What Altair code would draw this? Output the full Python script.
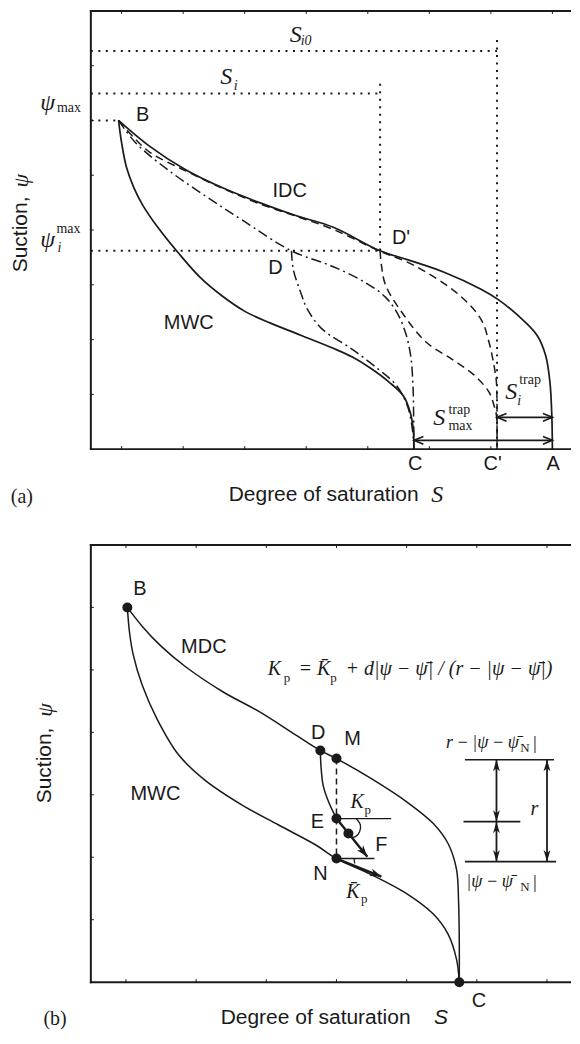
import altair as alt
import pandas as pd

INK = "#1a1a1a"
SANS = "Liberation Sans"
SERIF = "Liberation Serif"
TS = "\u2009"  # thin space used inside the math labels
BAR = "\u0304"  # combining macron

# ====================== panel (a) ======================
A_W, A_H = 481, 439
A_SDOM = [0, 7.802]
A_PDOM = [0, 8]
a_s_ticks = [0.5, 1.5, 2.5, 3.5, 4.5, 5.5, 6.5, 7.5]
a_p_ticks = [1, 2, 3, 4, 5, 6, 7]

# main initial drying curve B -> A
idc_s = [0.45, 0.94, 1.54, 2.14, 2.74, 3.34, 3.94, 4.70, 5.14, 5.74, 6.34, 6.62, 6.94, 7.25, 7.39, 7.46, 7.49, 7.50]
idc_p = [6.00, 5.54, 5.10, 4.77, 4.50, 4.26, 4.05, 3.62, 3.46, 3.23, 2.92, 2.73, 2.44, 2.08, 1.71, 1.22, 0.62, 0.00]
# main wetting curve B -> C
mwc_a_s = [0.45, 0.50, 0.58, 0.70, 0.84, 1.10, 1.43, 1.78, 2.14, 2.51, 2.92, 3.41, 3.94, 4.25, 4.54, 4.85, 5.08, 5.19, 5.24, 5.25]
mwc_a_p = [6.00, 5.59, 5.14, 4.77, 4.46, 4.03, 3.57, 3.13, 2.79, 2.51, 2.30, 2.08, 1.84, 1.68, 1.48, 1.22, 0.97, 0.67, 0.35, 0.00]
# dash-dot curves
dd1_s = [0.45, 0.73, 1.25, 1.85, 2.45, 3.26, 3.94, 4.46, 4.79, 4.99, 5.12, 5.20, 5.235, 5.245, 5.25]
dd1_p = [6.00, 5.59, 5.10, 4.63, 4.19, 3.62, 3.33, 3.04, 2.77, 2.46, 2.10, 1.68, 1.13, 0.58, 0.00]
dd2_s = [3.26, 3.29, 3.41, 3.52, 3.76, 4.25, 4.67, 4.96, 5.14, 5.22, 5.25]
dd2_p = [3.62, 3.28, 2.86, 2.55, 2.19, 1.82, 1.46, 1.17, 0.80, 0.40, 0.00]
# dashed curves
dsa_s = [4.70, 4.72, 4.79, 5.09, 5.45, 5.87, 6.23, 6.47, 6.55, 6.59, 6.60]
dsa_p = [3.62, 3.37, 2.99, 2.44, 1.95, 1.64, 1.35, 1.04, 0.80, 0.62, 0.00]
dsb_s = [0.45, 0.73, 0.97, 1.54, 2.14, 2.74, 3.34, 3.94, 4.70, 5.09, 5.45, 5.99, 6.34, 6.47, 6.55, 6.59, 6.60, 6.60]
dsb_p = [6.00, 5.65, 5.41, 5.08, 4.76, 4.48, 4.25, 4.01, 3.61, 3.44, 3.23, 2.81, 2.37, 1.95, 1.53, 1.22, 0.67, 0.00]
# dotted guide lines
S_i0, S_i0_top = 6.60, 7.47
S_i, S_i_top = 4.70, 6.67
psi_i0_line, psi_i_line = 7.27, 6.49
psi_max, psi_i_max = 6.00, 3.62
B_a_s, D_s, Dp_s = 0.45, 3.26, 4.70
C_s, Cp_s, A_s = 5.25, 6.60, 7.50
trap_max_p, trap_i_p = 0.16, 0.58

# ====================== panel (b) ======================
B_W, B_H = 481, 438
B_SDOM = [0, 6.842]
B_PDOM = [0, 7]
b_s_ticks = [0.5, 1.5, 2.5, 3.5, 4.5, 5.5, 6.5]
b_p_ticks = [1, 2, 3, 4, 5, 6]

mdc_s = [0.52, 0.73, 1.00, 1.35, 1.88, 2.40, 2.93, 3.27, 3.50, 3.98, 4.51, 4.88, 5.09, 5.21, 5.24, 5.25, 5.25]
mdc_p = [6.00, 5.70, 5.38, 5.05, 4.65, 4.33, 3.95, 3.71, 3.58, 3.27, 2.88, 2.54, 2.22, 1.81, 1.29, 0.65, 0.00]
mwc_b_s = [0.52, 0.55, 0.60, 0.73, 0.94, 1.25, 1.62, 2.15, 2.67, 3.20, 3.50, 3.98, 4.51, 4.88, 5.09, 5.21, 5.25]
mwc_b_p = [6.00, 5.61, 5.26, 4.76, 4.22, 3.64, 3.24, 2.84, 2.52, 2.20, 1.98, 1.73, 1.41, 1.09, 0.77, 0.37, 0.00]
scan_s = [3.27, 3.28, 3.31, 3.39, 3.50]
scan_p = [3.71, 3.45, 3.15, 2.88, 2.62]
arc_e_s = [3.78, 3.84, 3.83, 3.77, 3.71]
arc_e_p = [2.62, 2.52, 2.41, 2.33, 2.32]
arc_n_s = [3.75, 3.76]
arc_n_p = [1.98, 1.90]
pt_B = (0.52, 6.00); pt_D = (3.27, 3.71); pt_M = (3.50, 3.58); pt_E = (3.50, 2.62)
pt_mid = (3.67, 2.38); pt_N = (3.50, 1.98); pt_C = (5.25, 0.00)
tip_F = (3.94, 2.01); tip_N = (4.14, 1.69)
kp_line_end, kpbar_line_end = 4.28, 4.04
r_top, r_mid, r_bot = 3.56, 2.57, 1.93
r_left_s, r_arrow1_s, r_arrow2_s = 5.33, 5.78, 6.50
r_top_end, r_mid_l, r_mid_end, r_bot_end = 6.60, 5.31, 6.12, 6.63

# ---------------------------------------------------------------
def enc(sdom, pdom):
    return dict(
        x=alt.X("s:Q", scale=alt.Scale(domain=sdom, nice=False, zero=False), axis=None),
        y=alt.Y("p:Q", scale=alt.Scale(domain=pdom, nice=False, zero=False), axis=None),
    )


def curves(named, sdom, pdom, interp="catmull-rom", **mk):
    rows = []
    for name, (ss, ps) in named.items():
        for i, (s, p) in enumerate(zip(ss, ps)):
            rows.append({"c": name, "i": i, "s": s, "p": p})
    return alt.Chart(pd.DataFrame(rows)).mark_line(
        interpolate=interp, color=INK, **mk
    ).encode(**enc(sdom, pdom), detail="c:N", order="i:Q")


def labels(items, sdom, pdom, **mk):
    df = pd.DataFrame(items, columns=["t", "s", "p"])
    mk.setdefault("baseline", "middle")
    return alt.Chart(df).mark_text(color=INK, **mk).encode(**enc(sdom, pdom), text="t:N")


def symbols(pts, sdom, pdom, **mk):
    df = pd.DataFrame(pts, columns=["s", "p"])
    return alt.Chart(df).mark_point(color=INK, opacity=1, **mk).encode(**enc(sdom, pdom))


def frame_and_ticks(st, pt, sdom, pdom, W, H):
    """Left/top/bottom border (the right border lies beyond the picture) and inward ticks."""
    e = enc(sdom, pdom)
    one = pd.DataFrame({"k": [0]})
    ds = pd.DataFrame({"s": st})
    dp = pd.DataFrame({"p": pt})
    fk = dict(color=INK, strokeWidth=2)
    rk = dict(color=INK, strokeWidth=1)
    return [
        alt.Chart(one).mark_rule(**fk).encode(x=alt.value(0), y=alt.value(-1), y2=alt.value(H + 1)),
        alt.Chart(one).mark_rule(**fk).encode(x=alt.value(-1), x2=alt.value(W), y=alt.value(0)),
        alt.Chart(one).mark_rule(**fk).encode(x=alt.value(-1), x2=alt.value(W), y=alt.value(H)),
        alt.Chart(ds).mark_rule(**rk).encode(x=e["x"], y=alt.value(H), y2=alt.value(H - 3)),
        alt.Chart(ds).mark_rule(**rk).encode(x=e["x"], y=alt.value(0), y2=alt.value(3)),
        alt.Chart(dp).mark_rule(**rk).encode(y=e["y"], x=alt.value(0), x2=alt.value(3)),
    ]


CHEV_L = "M2,-0.8L0,0L2,0.8"
CHEV_R = "M-2,-0.8L0,0L-2,0.8"
HEAD_R = "M0,0L-2.2,-0.75L-1.6,0L-2.2,0.75Z"
HEAD_U = "M0,0L-0.65,2.2L0,1.6L0.65,2.2Z"
HEAD_D = "M0,0L-0.65,-2.2L0,-1.6L0.65,-2.2Z"

# ---------------- build panel (a) ----------------
sa, pa = A_SDOM, A_PDOM
a_layers = []
a_layers += frame_and_ticks(a_s_ticks, a_p_ticks, sa, pa, A_W, A_H)
a_layers.append(curves({
    "g1": ([0, S_i0], [psi_i0_line, psi_i0_line]),
    "g2": ([S_i0, S_i0], [S_i0_top, 0]),
    "g3": ([0, S_i], [psi_i_line, psi_i_line]),
    "g4": ([S_i, S_i], [S_i_top, psi_i_max]),
    "g5": ([0, B_a_s], [psi_max, psi_max]),
    "g6": ([0, Dp_s], [psi_i_max, psi_i_max]),
}, sa, pa, interp="linear", strokeWidth=2, strokeDash=[2, 5.5]))
a_layers.append(curves({"a": (dsa_s, dsa_p), "b": (dsb_s, dsb_p)}, sa, pa,
                       strokeWidth=1.5, strokeDash=[8, 5]))
a_layers.append(curves({"a": (dd1_s, dd1_p), "b": (dd2_s, dd2_p)}, sa, pa,
                       strokeWidth=1.5, strokeDash=[10, 4, 2, 4]))
a_layers.append(curves({"idc": (idc_s, idc_p), "mwc": (mwc_a_s, mwc_a_p)}, sa, pa,
                       strokeWidth=1.7))
a_layers.append(curves({
    "m": ([C_s, A_s], [trap_max_p, trap_max_p]),
    "i": ([Cp_s, A_s], [trap_i_p, trap_i_p]),
}, sa, pa, interp="linear", strokeWidth=1.8))
a_layers.append(symbols([(C_s, trap_max_p), (Cp_s, trap_i_p)], sa, pa,
                        shape=CHEV_L, size=90, filled=False, strokeWidth=1.6))
a_layers.append(symbols([(A_s, trap_max_p), (A_s, trap_i_p)], sa, pa,
                        shape=CHEV_R, size=90, filled=False, strokeWidth=1.6))
a_layers.append(labels([
    ("B", 0.84, 6.10), ("IDC", 3.23, 4.72), ("D'", 5.04, 3.85), ("D", 3.00, 3.30),
    ("MWC", 1.59, 2.31), ("C", 5.27, -0.27), ("C'", 6.53, -0.28), ("A", 7.51, -0.27),
], sa, pa, font=SANS, fontSize=20))
a_layers.append(labels([("Degree of saturation", 2.24, -0.84)], sa, pa,
                       font=SANS, fontSize=21, align="left"))
a_layers.append(labels([("S", 5.63, -0.84)], sa, pa, font=SERIF, fontSize=24, fontStyle="italic"))
a_layers.append(labels([("(a)", -1.12, -0.87)], sa, pa, font=SERIF, fontSize=20))
a_layers.append(labels([("Suction,", -1.14, 3.92)], sa, pa, font=SANS, fontSize=21, angle=270))
a_layers.append(labels([("ψ", -1.14, 4.90)], sa, pa, font=SERIF, fontSize=22,
                       fontStyle="italic", angle=270))
a_layers.append(labels([
    ("S", 3.33, 7.56), ("S", 2.20, 6.80), ("S", 5.66, 0.56), ("S", 6.83, 1.04),
    ("ψ", -0.70, 6.32), ("ψ", -0.70, 3.81),
], sa, pa, font=SERIF, fontSize=24, fontStyle="italic"))
a_layers.append(labels([
    ("i0", 3.41, 7.45), ("i", 2.32, 6.63), ("i", -0.54, 3.68), ("i", 6.93, 0.87),
], sa, pa, font=SERIF, fontSize=14, fontStyle="italic", align="left"))
a_layers.append(labels([
    ("max", -0.55, 6.23), ("max", -0.56, 4.01), ("trap", 5.81, 0.71),
    ("max", 5.81, 0.42), ("trap", 6.96, 1.26),
], sa, pa, font=SERIF, fontSize=14, align="left"))
panel_a = alt.layer(*a_layers).properties(width=A_W, height=A_H)

# ---------------- build panel (b) ----------------
sb, pb = B_SDOM, B_PDOM
b_layers = []
b_layers += frame_and_ticks(b_s_ticks, b_p_ticks, sb, pb, B_W, B_H)
b_layers.append(curves({"mn": ([pt_M[0], pt_N[0]], [pt_M[1], pt_N[1]])}, sb, pb,
                       interp="linear", strokeWidth=1.5, strokeDash=[6, 4]))
b_layers.append(curves({"mdc": (mdc_s, mdc_p), "mwc": (mwc_b_s, mwc_b_p),
                        "scan": (scan_s, scan_p)}, sb, pb, strokeWidth=1.5))
b_layers.append(curves({
    "he": ([pt_E[0], kp_line_end], [pt_E[1], pt_E[1]]),
    "hn": ([pt_N[0], kpbar_line_end], [pt_N[1], pt_N[1]]),
    "ae": (arc_e_s, arc_e_p), "an": (arc_n_s, arc_n_p),
}, sb, pb, strokeWidth=1.3))
b_layers.append(curves({
    "ef": ([pt_E[0], tip_F[0]], [pt_E[1], tip_F[1]]),
    "nt": ([pt_N[0], tip_N[0]], [pt_N[1], tip_N[1]]),
}, sb, pb, interp="linear", strokeWidth=2.4))
b_layers.append(symbols([tip_F], sb, pb, shape=HEAD_R, size=110, filled=True, angle=51))
b_layers.append(symbols([tip_N], sb, pb, shape=HEAD_R, size=110, filled=True, angle=22))
b_layers.append(symbols([pt_B, pt_D, pt_M, pt_E, pt_mid, pt_N, pt_C], sb, pb,
                        shape="circle", size=100, filled=True))
# r diagram
b_layers.append(curves({
    "t": ([r_left_s, r_top_end], [r_top, r_top]),
    "m": ([r_mid_l, r_mid_end], [r_mid, r_mid]),
    "b": ([r_left_s, r_bot_end], [r_bot, r_bot]),
}, sb, pb, interp="linear", strokeWidth=1.6))
b_layers.append(curves({
    "l1": ([r_arrow1_s, r_arrow1_s], [r_top, r_mid]),
    "l2": ([r_arrow1_s, r_arrow1_s], [r_mid, r_bot]),
    "r": ([r_arrow2_s, r_arrow2_s], [r_top, r_bot]),
}, sb, pb, interp="linear", strokeWidth=1.8))
b_layers.append(symbols([(r_arrow1_s, r_top), (r_arrow1_s, r_mid), (r_arrow2_s, r_top)], sb, pb,
                        shape=HEAD_U, size=110, filled=True))
b_layers.append(symbols([(r_arrow1_s, r_mid), (r_arrow1_s, r_bot), (r_arrow2_s, r_bot)], sb, pb,
                        shape=HEAD_D, size=110, filled=True))
b_layers.append(labels([
    ("B", 0.70, 6.29), ("MDC", 1.61, 5.37), ("D", 3.24, 3.99), ("M", 3.73, 3.90),
    ("E", 3.23, 2.56), ("F", 4.14, 2.19), ("N", 3.27, 1.73), ("MWC", 0.92, 3.02),
    ("C", 5.53, -0.30),
], sb, pb, font=SANS, fontSize=20))
b_layers.append(labels([("Degree of saturation", 1.85, -0.575)], sb, pb,
                       font=SANS, fontSize=21, align="left"))
b_layers.append(labels([("S", 4.99, -0.575)], sb, pb, font=SANS, fontSize=21, fontStyle="italic"))
b_layers.append(labels([("(b)", -0.51, -0.585)], sb, pb, font=SERIF, fontSize=20))
b_layers.append(labels([("Suction,", -0.65, 3.47)], sb, pb, font=SANS, fontSize=21, angle=270))
b_layers.append(labels([("ψ", -0.65, 4.36)], sb, pb, font=SERIF, fontSize=22,
                       fontStyle="italic", angle=270))
# formula and math labels
b_layers.append(labels([
    ("K", 2.52, 5.02), ("= K" + BAR, 2.96, 5.02),
    ("+ d|ψ − ψ" + BAR + "| / (r − |ψ − ψ" + BAR + "|)", 3.63, 5.02),
    ("K", 3.70, 2.89), ("K" + BAR, 3.64, 1.45),
], sb, pb, font=SERIF, fontSize=20, fontStyle="italic", align="left"))
b_layers.append(labels([
    ("r" + TS + "−" + TS + "|ψ" + TS + "−" + TS + "ψ" + BAR, 5.06, 3.83),
    ("|ψ" + TS + "−" + TS + "ψ" + BAR, 5.35, 1.61),
], sb, pb, font=SERIF, fontSize=18, fontStyle="italic", align="left"))
b_layers.append(labels([("r", 6.32, 2.78)], sb, pb, font=SERIF, fontSize=20, fontStyle="italic"))
b_layers.append(labels([("|", 6.30, 3.83), ("|", 6.30, 1.61)], sb, pb, font=SERIF, fontSize=19,
                       align="left"))
b_layers.append(labels([
    ("p", 2.75, 4.87), ("p", 3.41, 4.87), ("p", 3.90, 2.76), ("p", 3.85, 1.33),
    ("N", 6.12, 3.75), ("N", 6.12, 1.53),
], sb, pb, font=SERIF, fontSize=13, align="left"))
panel_b = alt.layer(*b_layers).properties(width=B_W, height=B_H)

chart = alt.vconcat(panel_a, panel_b, spacing=96, bounds="flush").properties(
    padding={"left": 1, "top": 0, "right": 0, "bottom": 0},
).configure_view(strokeWidth=0)

chart.save("out.html", embed_options={"renderer": "svg", "actions": False})
